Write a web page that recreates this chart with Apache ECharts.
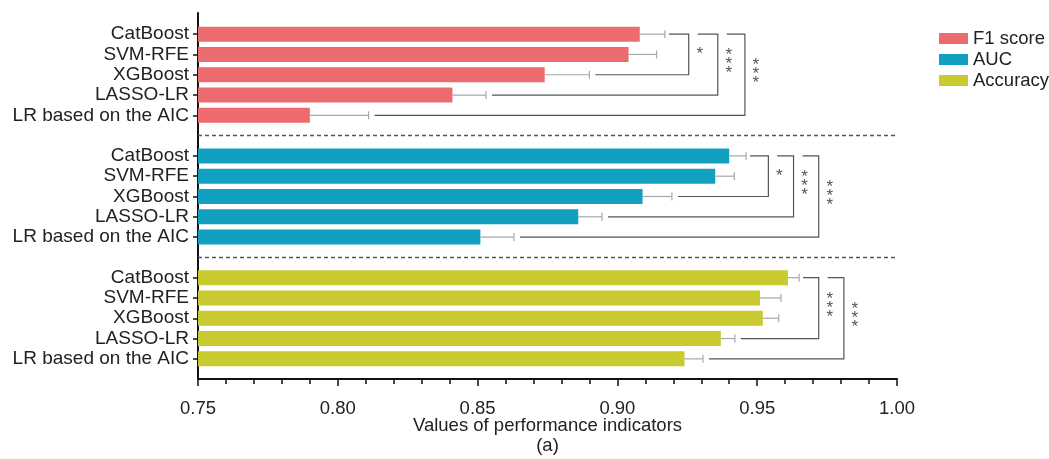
<!DOCTYPE html>
<html>
<head>
<meta charset="utf-8">
<script src="https://cdn.jsdelivr.net/npm/echarts@6/dist/echarts.min.js"></script>
<style>
  html, body { margin: 0; padding: 0; background: #fff; }
  #chart { width: 1049px; height: 459px; }
</style>
</head>
<body>
<div id="chart"></div>
<script>
// Model names (top to bottom inside each metric block)
const models = ['CatBoost', 'SVM-RFE', 'XGBoost', 'LASSO-LR', 'LR based on the AIC'];
const metricNames = ['F1 score', 'AUC', 'Accuracy'];

// Mean values and one-sided error (SD) per metric
const f1Mean = [0.908, 0.904, 0.874, 0.841, 0.790];
const f1Err = [0.009, 0.010, 0.016, 0.012, 0.021];
const aucMean = [0.940, 0.935, 0.909, 0.886, 0.851];
const aucErr = [0.006, 0.0068, 0.0105, 0.0085, 0.012];
const accMean = [0.961, 0.951, 0.952, 0.937, 0.924];
const accErr = [0.004, 0.0075, 0.0057, 0.005, 0.0066];

// Significance brackets: CatBoost versus model index `to`, vertical at value `at`
const f1Sig = [{ to: 2, mark: '*', at: 0.9255 }, { to: 3, mark: '***', at: 0.9359 }, { to: 4, mark: '***', at: 0.9456 }];
const aucSig = [{ to: 2, mark: '*', at: 0.9540 }, { to: 3, mark: '***', at: 0.9630 }, { to: 4, mark: '***', at: 0.9720 }];
const accSig = [{ to: 3, mark: '***', at: 0.9720 }, { to: 4, mark: '***', at: 0.9810 }];

// Axis ticks
const xMin = 0.75, xMax = 1.00, xStep = 0.05;

const colors = ['#EC6B6F', '#12A0C0', '#C9CA30'];
const blocks = [
  { mean: f1Mean, err: f1Err, sig: f1Sig },
  { mean: aucMean, err: aucErr, sig: aucSig },
  { mean: accMean, err: accErr, sig: accSig }
];

// Category slots: 5 models per block with one empty slot between blocks
const perBlock = models.length + 1;
const categories = [];
blocks.forEach((b, bi) => {
  models.forEach(m => categories.push(m));
  if (bi < blocks.length - 1) categories.push('');
});
const gapSlots = [models.length, 2 * models.length + 1];

const barSeries = blocks.map((b, bi) => {
  const data = categories.map(() => '-');
  b.mean.forEach((v, i) => { data[bi * perBlock + i] = v; });
  return {
    name: metricNames[bi], type: 'bar', xAxisIndex: 1, yAxisIndex: 1,
    data, barWidth: 15, barGap: '-100%',
    itemStyle: { color: colors[bi] }, silent: true
  };
});

const errRows = [];
blocks.forEach((b, bi) => b.mean.forEach((v, i) => errRows.push([bi * perBlock + i, v, b.err[i]])));

const sigRows = [];
blocks.forEach((b, bi) => {
  const base = bi * perBlock;
  b.sig.forEach((s, si) => {
    const topRef = si === 0 ? b.mean[0] + b.err[0] : b.sig[si - 1].at;
    const botRef = b.mean[s.to] + b.err[s.to];
    sigRows.push([base, base + s.to, topRef, botRef, s.at, si === 0 ? 0 : 1, s.mark]);
  });
});

const font = '"Liberation Sans", Arial, Helvetica, sans-serif';
const fs = 18.5;
const chart = echarts.init(document.getElementById('chart'), null, { renderer: 'canvas' });

chart.setOption({
  animation: false,
  textStyle: { fontFamily: font },
  legend: {
    data: metricNames, orient: 'vertical', left: 934, top: 24,
    icon: 'rect', itemWidth: 29, itemHeight: 11, itemGap: 2,
    textStyle: { fontSize: fs, color: '#222', fontFamily: font }
  },
  grid: [
    { left: 198, right: 152, top: 13, bottom: 80, outerBoundsMode: 'none' },
    { left: 198, right: 152, top: 24, bottom: 90, outerBoundsMode: 'none' }
  ],
  xAxis: [
    {
      gridIndex: 0, type: 'value', min: xMin, max: xMax, interval: xStep,
      name: 'Values of performance indicators\n(a)', nameLocation: 'middle', nameGap: 37,
      nameMoveOverlap: false,
      nameTextStyle: { fontSize: fs, color: '#222', lineHeight: 20, fontFamily: font },
      axisLine: { show: true, lineStyle: { color: '#111', width: 2 } },
      axisTick: { show: true, length: 7, lineStyle: { color: '#111', width: 1.5 } },
      minorTick: { show: true, splitNumber: 5, length: 5, lineStyle: { color: '#111', width: 1.5 } },
      splitLine: { show: false },
      axisLabel: { fontSize: fs, color: '#222', margin: 20, formatter: v => v.toFixed(2) }
    },
    { gridIndex: 1, type: 'value', min: xMin, max: xMax, show: false, splitLine: { show: false } }
  ],
  yAxis: [
    {
      gridIndex: 0, type: 'value', min: 0, max: 1,
      axisLine: { show: true, onZero: false, lineStyle: { color: '#111', width: 2 } },
      axisTick: { show: false }, axisLabel: { show: false }, splitLine: { show: false }
    },
    {
      gridIndex: 1, type: 'category', inverse: true, data: categories,
      axisLine: { show: false },
      axisTick: {
        show: true, alignWithLabel: true, length: 5,
        interval: (i) => !gapSlots.includes(i),
        lineStyle: { color: '#111', width: 1.5 }
      },
      axisLabel: { fontSize: 19, color: '#222', margin: 9, interval: 0 },
      splitLine: { show: false }
    }
  ],
  series: [
    ...barSeries,
    {
      // one-sided error bars with end cap
      type: 'custom', xAxisIndex: 1, yAxisIndex: 1, silent: true, z: 3,
      data: errRows, encode: { x: [1, 2], y: 0 },
      renderItem: (params, api) => {
        const y = api.value(0), m = api.value(1), e = api.value(2);
        const p0 = api.coord([m, y]), p1 = api.coord([m + e, y]);
        const st = { stroke: '#A8A8A8', lineWidth: 1.2 };
        return {
          type: 'group', children: [
            { type: 'line', shape: { x1: p0[0], y1: p0[1], x2: p1[0], y2: p1[1] }, style: st },
            { type: 'line', shape: { x1: p1[0], y1: p1[1] - 4, x2: p1[0], y2: p1[1] + 4 }, style: st }
          ]
        };
      }
    },
    {
      // dashed separators between metric blocks
      type: 'custom', xAxisIndex: 1, yAxisIndex: 1, silent: true, z: 3,
      data: gapSlots.map(g => [g]), encode: { y: 0 },
      renderItem: (params, api) => {
        const y = api.value(0);
        const a = api.coord([xMin, y]), b = api.coord([xMax, y]);
        return {
          type: 'line', shape: { x1: a[0], y1: a[1], x2: b[0], y2: b[1] },
          style: { stroke: '#555', lineWidth: 1.5, lineDash: [4, 3] }
        };
      }
    },
    {
      // significance brackets
      type: 'custom', xAxisIndex: 1, yAxisIndex: 1, silent: true, z: 3,
      data: sigRows, encode: { y: [0, 1] },
      renderItem: (params, api) => {
        const top = api.value(0), bot = api.value(1);
        const topRef = api.value(2), botRef = api.value(3), at = api.value(4);
        const stacked = api.value(5) === 1;
        const mark = sigRows[params.dataIndex][6];
        const vt = api.coord([at, top]), vb = api.coord([at, bot]);
        const ts = api.coord([topRef, top]), bs = api.coord([botRef, bot]);
        const tx = ts[0] + (stacked ? 9 : 4);
        const bx = bs[0] + 6;
        const st = { stroke: '#555', lineWidth: 1.2, fill: null };
        return {
          type: 'group', children: [
            { type: 'polyline', shape: { points: [[tx, vt[1]], [vt[0], vt[1]], [vb[0], vb[1]], [bx, vb[1]]] }, style: st },
            {
              type: 'text', x: vt[0] + 11, y: (vt[1] + vb[1]) / 2,
              style: {
                text: mark.split('').join('\n'), fill: '#555', fontSize: 17,
                fontFamily: font, lineHeight: 9, align: 'center', verticalAlign: 'middle'
              }
            }
          ]
        };
      }
    }
  ]
});
</script>
</body>
</html>
